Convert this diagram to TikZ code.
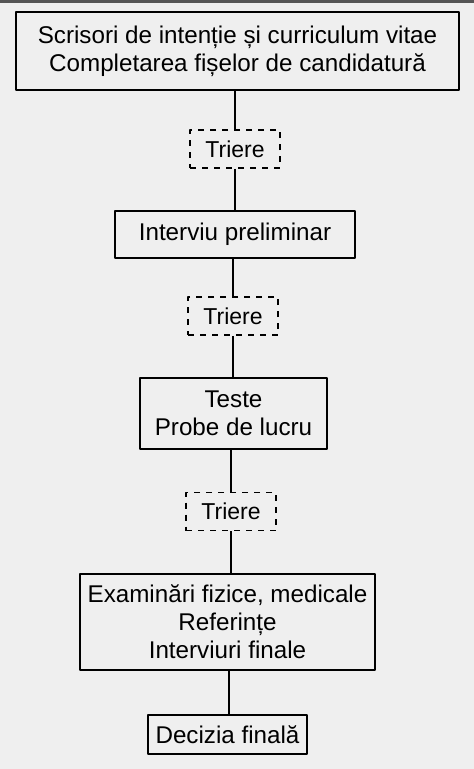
\documentclass[tikz,border=0pt]{standalone}
\usepackage{fontspec}
\setmainfont{Liberation Sans}
\usetikzlibrary{positioning}
\definecolor{paper}{HTML}{EFEFEF}
\definecolor{edge}{HTML}{555555}

\begin{document}
\begin{tikzpicture}[line join=round, x=1pt, y=1pt,
  box/.style={draw, line width=1.9pt, inner sep=0pt, align=center,
    font=\fontsize{24.2}{28}\selectfont},
  sieve/.style={draw, line width=1.9pt, dash pattern=on 6pt off 6pt, inner sep=0pt,
    minimum width=90pt, minimum height=38pt, font=\fontsize{23}{28}\selectfont},
  link/.style={line width=1.9pt}]

\fill[paper] (0,0) rectangle (474,-769);
\fill[edge] (0,0) rectangle (474,-3);
\useasboundingbox (0,0) rectangle (474,-769);

\node[box, minimum width=443pt, minimum height=78pt] (apply) at (237.5,-51)
{Scrisori de intenție și curriculum vitae\\Completarea fișelor de candidatură};

\node[sieve] (sieveA) at (235,-149) {Triere};

\node[box, minimum width=240pt, minimum height=47pt] (interview) at (235,-234.5)
{Interviu preliminar};

\node[sieve] (sieveB) at (233,-316) {Triere};

\node[box, minimum width=187pt, minimum height=71pt] (tests) at (233.5,-413.5)
{Teste\\Probe de lucru};

\node[sieve] (sieveC) at (231,-511.5) {Triere};

\node[box, minimum width=295pt, minimum height=96pt] (checks) at (227.5,-622)
{Examinări fizice, medicale\\Referințe\\Interviuri finale};

\node[box, minimum width=159pt, minimum height=39pt] (decision) at (227.5,-734.5)
{Decizia finală};

\draw[link] (sieveA.north |- apply.south) -- (sieveA.north);
\draw[link] (sieveA.south) -- (sieveA.south |- interview.north);
\draw[link] (sieveB.north |- interview.south) -- (sieveB.north);
\draw[link] (sieveB.south) -- (sieveB.south |- tests.north);
\draw[link] (sieveC.north |- tests.south) -- (sieveC.north);
\draw[link] (sieveC.south) -- (sieveC.south |- checks.north);
\draw[link] (decision.north -| 229,0) -- (checks.south -| 229,0);

\end{tikzpicture}
\end{document}
